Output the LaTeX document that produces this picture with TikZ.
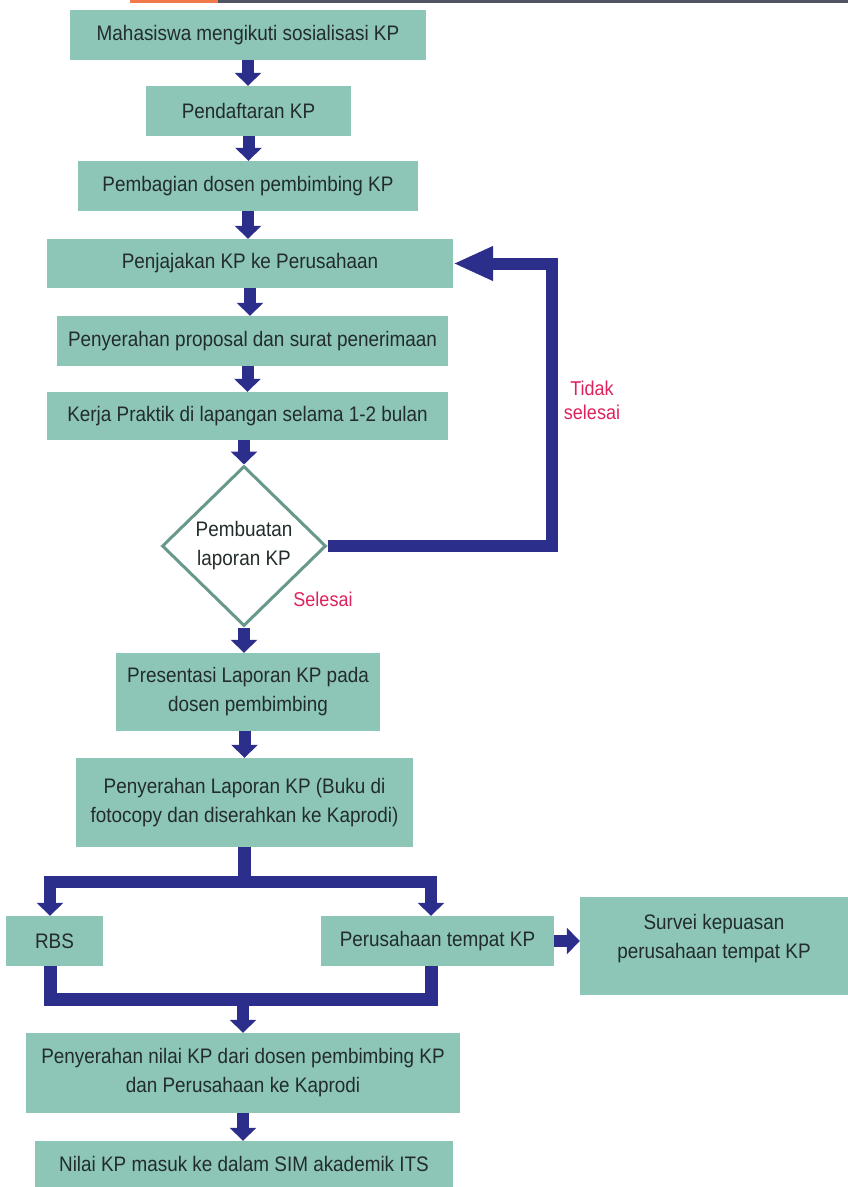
\documentclass[tikz,border=0pt]{standalone}
\usepackage{fontspec}
\setmainfont[FakeStretch=0.9]{Liberation Sans}
\usetikzlibrary{arrows.meta,shapes.geometric}
\definecolor{boxfill}{RGB}{141,198,182}
\definecolor{navy}{RGB}{44,46,140}
\definecolor{rim}{RGB}{104,152,140}
\definecolor{lblred}{RGB}{222,34,92}
\definecolor{ink}{RGB}{34,44,44}
\definecolor{topgray}{RGB}{78,84,100}
\definecolor{toporange}{RGB}{242,122,74}
\begin{document}
\begin{tikzpicture}[x=1pt,y=-1pt,
  stepbox/.style={fill=boxfill, text=ink, inner sep=0pt, align=center,
    font=\fontsize{21}{29}\selectfont},
  decision/.style={diamond, draw=rim, line width=3pt, fill=white, text=ink,
    inner sep=0pt, align=center, font=\fontsize{21}{29}\selectfont},
  flow/.style={draw=navy, line width=12pt, line join=miter,
    -{Triangle[width=26pt,length=13pt]}},
  bigflow/.style={draw=navy, line width=12pt, line join=miter,
    -{Triangle[width=32pt,length=40pt]}},
  pipe/.style={draw=navy, line width=13pt, line join=miter},
  lbl/.style={text=lblred, align=center, inner sep=0pt,
    font=\fontsize{20}{24}\selectfont}]
\useasboundingbox (0,0) rectangle (848,1187);
% top strip
\fill[toporange] (130,0) rectangle (218,3);
\fill[topgray] (218,0) rectangle (848,3);
% boxes
\node[stepbox, minimum width=356pt, minimum height=50pt] (b1) at (248,35) {Mahasiswa mengikuti sosialisasi KP};
\node[stepbox, minimum width=205pt, minimum height=50pt] (b2) at (248.5,111) {Pendaftaran KP};
\node[stepbox, minimum width=340pt, minimum height=50pt] (b3) at (248,186) {Pembagian dosen pembimbing KP};
\node[stepbox, minimum width=406pt, minimum height=49pt] (b4) at (250,263.5) {Penjajakan KP ke Perusahaan};
\node[stepbox, minimum width=391pt, minimum height=50pt] (b5) at (252.5,341) {Penyerahan proposal dan surat penerimaan};
\node[stepbox, minimum width=401pt, minimum height=48pt] (b6) at (247.5,416) {Kerja Praktik di lapangan selama 1-2 bulan};
\node[decision, minimum width=164pt, minimum height=160pt] (dia) at (244,546) {Pembuatan\\laporan KP};
\node[stepbox, minimum width=264pt, minimum height=78pt] (b7) at (248,692) {Presentasi Laporan KP pada\\dosen pembimbing};
\node[stepbox, minimum width=337pt, minimum height=89pt] (b8) at (244.5,802.5) {Penyerahan Laporan KP (Buku di\\fotocopy dan diserahkan ke Kaprodi)};
\node[stepbox, minimum width=97pt, minimum height=50pt] (rbs) at (54.5,941) {RBS};
\node[stepbox, minimum width=233pt, minimum height=50pt] (per) at (437.5,941) {Perusahaan tempat KP};
\node[stepbox, minimum width=268pt, minimum height=98pt] (sv) at (714,946) {Survei kepuasan\\perusahaan tempat KP\\[-10pt]\mbox{}};
\node[stepbox, minimum width=434pt, minimum height=80pt] (b9) at (243,1073) {Penyerahan nilai KP dari dosen pembimbing KP\\dan Perusahaan ke Kaprodi};
\node[stepbox, minimum width=418pt, minimum height=46pt] (b10) at (244,1164) {Nilai KP masuk ke dalam SIM akademik ITS};
% labels
\node[lbl] (tl) at (592,400) {Tidak\\selesai};
\node[lbl] (sl) at (323,599) {Selesai};
% straight arrows
\draw[flow] (b1.south) -- (b1.south |- b2.north);
\draw[flow] (b2.south) -- (b2.south |- b3.north);
\draw[flow] (b3.south) -- (b3.south |- b4.north);
\draw[flow] (b4.south) -- (b4.south |- b5.north);
\draw[flow] (b5.south -| b6.north) -- (b6.north);
\draw[flow] (dia.north |- b6.south) -- (dia.north);
\draw[flow] (dia.south) -- (dia.south |- b7.north);
\draw[flow] (b7.south -| b8.north) -- (b8.north);
\draw[flow] (b9.south) -- (b9.south |- b10.north);
\draw[flow] (per.east) -- (per.east -| sv.west);
% loop back
\coordinate (lc) at (552,546);
\draw[bigflow] (dia.east) -- (lc) |- (b4.east);
% split
\coordinate (sL) at (50,882);
\coordinate (sR) at (431,882);
\draw[pipe] (b8.south) -- (b8.south |- sL);
\draw[flow] (sR) -- (sL) -- (sL |- rbs.north);
\draw[flow] (sL) -- (sR) -- (sR |- per.north);
% merge
\coordinate (mL) at (50,999);
\coordinate (mR) at (431,999);
\draw[pipe] (rbs.south -| mL) -- (mL) -- (mR) -- (per.south -| mR);
\draw[flow] (mL -| b9.north) -- (b9.north);
\end{tikzpicture}
\end{document}
